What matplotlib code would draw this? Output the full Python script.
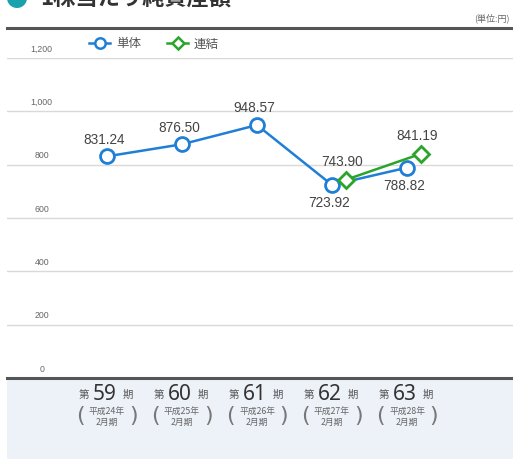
import matplotlib
matplotlib.use("Agg")
import matplotlib.pyplot as plt
from matplotlib.patches import Rectangle, Ellipse
from matplotlib.transforms import blended_transform_factory
from matplotlib.lines import Line2D

plt.rcParams['font.family'] = ['Noto Sans CJK JP', 'DejaVu Sans']

# ---- data ----
periods = ["59", "60", "61", "62", "63"]
years = ["24", "25", "26", "27", "28"]
single_vals = [831.24, 876.50, 948.57, 723.92, 788.82]
consol_idx = [3, 4]
consol_vals = [743.90, 841.19]
yticks = [0, 200, 400, 600, 800, 1000, 1200]
ytick_labels = ["0", "200", "400", "600", "800", "1,000", "1,200"]
title = "1株当たり純資産額"
unit = "(単位:円)"
legend_labels = ["単体", "連結"]

W, H = 513, 459
fig = plt.figure(figsize=(W / 100, H / 100), dpi=100)

def fx(px):
    return px / W

def fy(py):
    return 1 - py / H

# axes: left 7px, right 513px; y 0 at 378px, 1200 at 58px
ax = fig.add_axes([fx(7), fy(378), fx(513 - 7), (378 - 58) / H])
ax.set_xlim((7 - 107) / 75, (513 - 107) / 75)
ax.set_ylim(0, 1200)
ax.axis('off')

BLUE = "#1f7fd6"
GREEN = "#2aa52a"
TXT = "#444444"

for v, lab in zip(yticks, ytick_labels):
    if v == 0:
        ax.axhline(v, color="#555555", lw=2.2, zorder=1, clip_on=False)
    else:
        ax.axhline(v, color="#d9d9d9", lw=1.0, zorder=1)
    ax.annotate(lab, xy=(-0.87, v), xytext=(0, 3), textcoords="offset points",
                ha="center", va="bottom", fontsize=6.3, color="#666666",
                family=['Liberation Sans', 'DejaVu Sans'])

x_single = list(range(len(single_vals)))
ax.plot(x_single, single_vals, color=BLUE, lw=1.8, marker="o", ms=10,
        mfc="white", mec=BLUE, mew=2, zorder=3)
goff = 0.19
x_cons = [i + goff for i in consol_idx]
ax.plot(x_cons, consol_vals, color=GREEN, lw=1.8, marker="D", ms=8.5,
        mfc="white", mec=GREEN, mew=2, zorder=4)

num_font = ['Liberation Sans', 'DejaVu Sans']
above = [True, True, True, False, False]
for x, v, a in zip(x_single, single_vals, above):
    ax.annotate(f"{v:.2f}", xy=(x, v), xytext=(-2, 12 if a else -13),
                textcoords="offset points", ha="center", va="center",
                fontsize=9.8, color=TXT, family=num_font)
for x, v in zip(x_cons, consol_vals):
    ax.annotate(f"{v:.2f}", xy=(x, v), xytext=(-3, 12.5),
                textcoords="offset points", ha="center", va="center",
                fontsize=9.8, color=TXT, family=num_font)

# top dark rule
fig.add_artist(Line2D([fx(7), 1], [fy(28), fy(28)], color="#555555", lw=2.2))

# bottom panel
fig.add_artist(Rectangle((fx(7), 0), 1 - fx(7), fy(379.5), facecolor="#edf1f8",
                         edgecolor="none", zorder=0))

# title
fig.add_artist(Ellipse((fx(17), fy(-2)), 20 / W, 20 / H, facecolor="#17a2ad",
                       edgecolor="none"))
fig.text(fx(40), fy(6), title, fontsize=16, fontweight="bold", color="#333333",
         va="baseline", ha="left")
fig.text(fx(510), fy(18), unit, fontsize=6.5, color="#666666", ha="right", va="center")

# legend
leg_handles = [
    Line2D([], [], color=BLUE, lw=1.8, marker="o", ms=7.5, mfc="white", mec=BLUE, mew=1.8),
    Line2D([], [], color=GREEN, lw=1.8, marker="D", ms=6.5, mfc="white", mec=GREEN, mew=1.8),
]
fig.legend(leg_handles, legend_labels, loc="center left",
           bbox_to_anchor=(fx(89), fy(44)), ncol=2, frameon=False,
           fontsize=9, handlelength=1.7, handletextpad=0.45, columnspacing=2.1,
           labelcolor="#555555", borderpad=0, borderaxespad=0)

# x category labels
tr = blended_transform_factory(ax.transData, fig.transFigure)
for i, (p, y) in enumerate(zip(periods, years)):
    ax.text(i - 0.03, fy(394), p, transform=tr, ha="center", va="center", fontsize=15,
            color="#333333", family=['Noto Sans', 'DejaVu Sans'], fontweight="medium",
            clip_on=False)
    ax.text(i - 0.31, fy(395), "第", transform=tr, ha="center", va="center",
            fontsize=7.5, color="#555555", clip_on=False)
    ax.text(i + 0.28, fy(395), "期", transform=tr, ha="center", va="center",
            fontsize=7.5, color="#555555", clip_on=False)
    ax.text(i, fy(411), f"平成{y}年", transform=tr, ha="center", va="center",
            fontsize=6.3, color="#666666", clip_on=False)
    ax.text(i, fy(422), "2月期", transform=tr, ha="center", va="center",
            fontsize=6.3, color="#666666", clip_on=False)
    ax.text(i - 0.36, fy(416), "(", transform=tr, ha="center", va="center",
            fontsize=16, color="#777777", family=['DejaVu Sans'], clip_on=False)
    ax.text(i + 0.36, fy(416), ")", transform=tr, ha="center", va="center",
            fontsize=16, color="#777777", family=['DejaVu Sans'], clip_on=False)

fig.savefig("out.png", dpi=100)
